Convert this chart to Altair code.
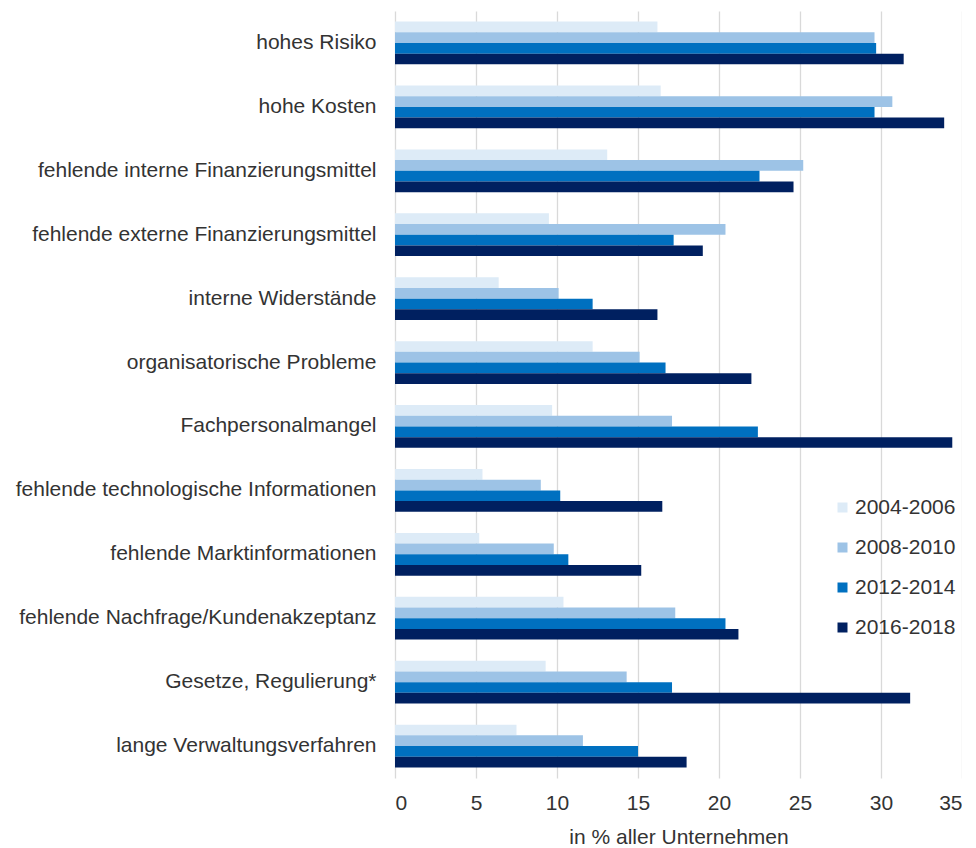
import altair as alt
import pandas as pd

categories = [
    "hohes Risiko",
    "hohe Kosten",
    "fehlende interne Finanzierungsmittel",
    "fehlende externe Finanzierungsmittel",
    "interne Widerstände",
    "organisatorische Probleme",
    "Fachpersonalmangel",
    "fehlende technologische Informationen",
    "fehlende Marktinformationen",
    "fehlende Nachfrage/Kundenakzeptanz",
    "Gesetze, Regulierung*",
    "lange Verwaltungsverfahren",
]
series = ["2004-2006", "2008-2010", "2012-2014", "2016-2018"]
v_2004_2006 = [16.2, 16.4, 13.1, 9.5, 6.4, 12.2, 9.7, 5.4, 5.2, 10.4, 9.3, 7.5]
v_2008_2010 = [29.6, 30.7, 25.2, 20.4, 10.1, 15.1, 17.1, 9.0, 9.8, 17.3, 14.3, 11.6]
v_2012_2014 = [29.7, 29.6, 22.5, 17.2, 12.2, 16.7, 22.4, 10.2, 10.7, 20.4, 17.1, 15.0]
v_2016_2018 = [31.4, 33.9, 24.6, 19.0, 16.2, 22.0, 34.4, 16.5, 15.2, 21.2, 31.8, 18.0]
colors = ["#DDEBF7", "#9DC3E6", "#0070C0", "#002060"]
x_ticks = [0, 5, 10, 15, 20, 25, 30, 35]

rows = []
for s, vals in zip(series, [v_2004_2006, v_2008_2010, v_2012_2014, v_2016_2018]):
    for c, v in zip(categories, vals):
        rows.append({"Kategorie": c, "Zeitraum": s, "Wert": v})
df = pd.DataFrame(rows)

FONT = "Liberation Sans"
TXT = "#333333"

chart = (
    alt.Chart(df)
    .mark_bar()
    .encode(
        y=alt.Y(
            "Kategorie:N",
            sort=categories,
            scale=alt.Scale(paddingInner=0.33, paddingOuter=0.165),
            axis=alt.Axis(
                title=None,
                ticks=False,
                domain=False,
                labelFontSize=21,
                labelFont=FONT,
                labelColor=TXT,
                labelPadding=19,
                labelLimit=500,
            ),
        ),
        yOffset=alt.YOffset("Zeitraum:N", sort=series),
        x=alt.X(
            "Wert:Q",
            scale=alt.Scale(domain=[0, 35]),
            axis=alt.Axis(
                values=x_ticks,
                title="in % aller Unternehmen",
                titleFont=FONT,
                titleFontSize=21,
                titleFontWeight="normal",
                titleColor=TXT,
                titlePadding=13,
                labelFont=FONT,
                labelFontSize=21,
                labelColor=TXT,
                labelPadding=14,
                ticks=False,
                domain=False,
                grid=True,
                gridColor="#D9D9D9",
                gridWidth=1.3,
            ),
        ),
        color=alt.Color(
            "Zeitraum:N",
            sort=series,
            scale=alt.Scale(domain=series, range=colors),
            legend=alt.Legend(
                title=None,
                orient="none",
                legendX=437,
                legendY=486,
                symbolType="square",
                symbolSize=100,
                symbolStrokeWidth=0,
                labelFont=FONT,
                labelFontSize=21,
                labelColor=TXT,
                labelOffset=2,
                rowPadding=18,
            ),
        ),
    )
    .properties(
        width=567,
        height=767,
        padding={"left": 7, "top": 3, "right": 0, "bottom": 0},
    )
    .configure_view(stroke=None)
)

chart.save("out.html", embed_options={"renderer": "svg", "actions": False})
